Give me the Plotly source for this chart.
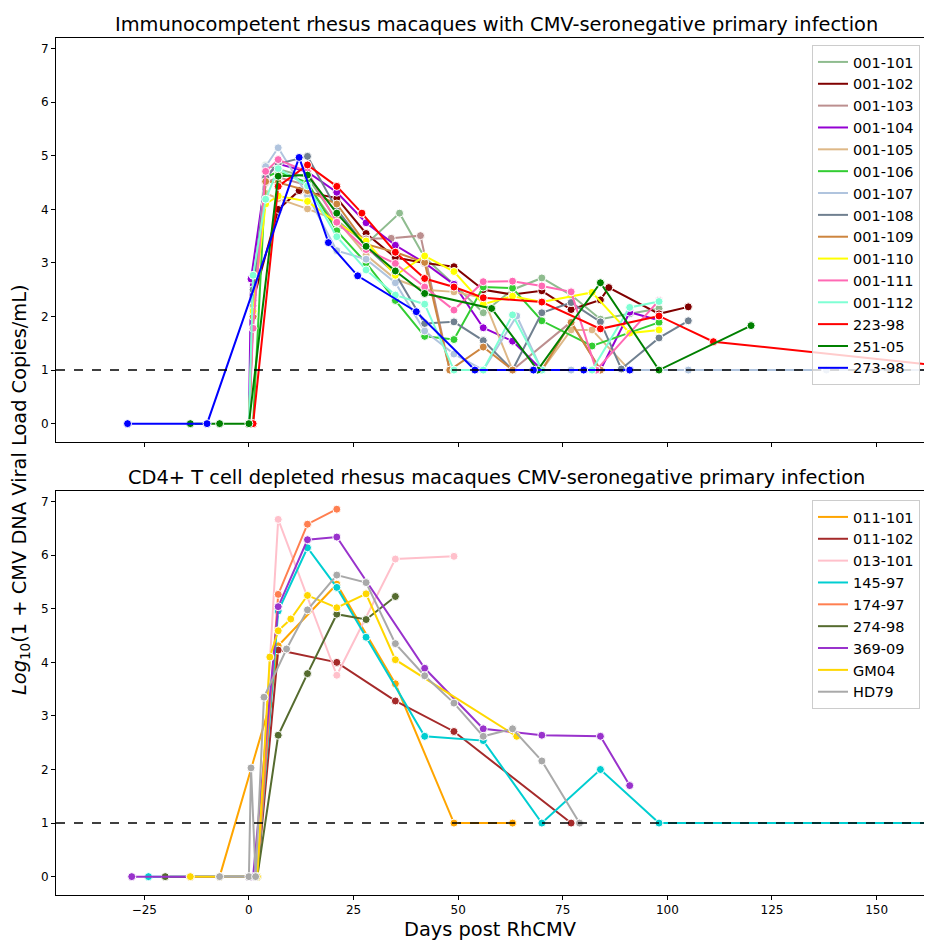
import plotly.graph_objects as go
from plotly.subplots import make_subplots

# ---------------- Top panel: immunocompetent ----------------
top_ids = ["001-101", "001-102", "001-103", "001-104", "001-105", "001-106", "001-107",
           "001-108", "001-109", "001-110", "001-111", "001-112", "223-98", "251-05", "273-98"]
top_colors = ["#8FBC8F", "#800000", "#BC8F8F", "#9400D3", "#DEB887", "#32CD32", "#B0C4DE",
              "#708090", "#CD853F", "#FFFF00", "#FF69B4", "#7FFFD4", "#FF0000", "#008000", "#0000FF"]

d_001_101 = [0, 1, 4, 7, 14, 21, 28, 36, 42, 49, 56, 63, 70, 77, 84, 91, 98]
v_001_101 = [0, 2.4, 4.82, 4.75, 4.6, 3.8, 3.35, 3.93, 3.1, 2.6, 2.07, 2.5, 2.72, 2.4, 1.95, 2.05, 2.15]
d_001_102 = [0, 1, 7, 12, 21, 28, 35, 42, 49, 56, 63, 70, 77, 84, 86, 98, 105]
v_001_102 = [0, 2.3, 4.0, 4.35, 4.21, 3.55, 3.10, 3.0, 2.93, 2.5, 2.41, 2.48, 2.13, 2.31, 2.54, 2.05, 2.18]
d_001_103 = [0, 1, 4, 7, 14, 21, 28, 34, 41, 48, 63, 77, 84, 91]
v_001_103 = [0, 2.0, 4.5, 4.6, 4.45, 3.7, 3.45, 3.46, 3.51, 1.0, 1.0, 1.9, 1.0, 1.0]
d_001_104 = [0, 0.5, 4, 7, 14, 21, 28, 35, 42, 49, 56, 63, 70, 84, 91, 98]
v_001_104 = [0, 2.7, 4.6, 4.85, 4.7, 4.32, 3.75, 3.33, 3.0, 2.6, 1.79, 1.54, 1.0, 1.0, 2.08, 1.93]
d_001_105 = [0, 1, 4, 7, 14, 21, 28, 35, 42, 49, 56, 63, 70, 77, 82, 91]
v_001_105 = [0, 2.2, 4.3, 4.2, 4.01, 3.8, 3.15, 2.7, 2.5, 2.46, 2.35, 1.0, 1.0, 1.75, 1.75, 1.0]
d_001_106 = [0, 1, 4, 7, 14, 21, 28, 35, 42, 49, 56, 63, 70, 82, 91, 98]
v_001_106 = [0, 0, 4.6, 4.7, 4.5, 3.6, 3.0, 2.3, 1.63, 1.57, 2.55, 2.53, 1.92, 1.45, 1.7, 1.89]
d_001_107 = [0, 1, 4, 7, 14, 21, 28, 35, 42, 49, 56, 64, 70, 77, 84, 91, 98, 105, 138, 153, 175]
v_001_107 = [0, 2.3, 4.8, 5.15, 4.26, 3.23, 3.07, 2.63, 1.73, 1.3, 1.0, 2.01, 1.0, 1.0, 1.0, 1.0, 1.0, 1.0, 1.0, 1.0, 1.0]
d_001_108 = [0, 1, 4, 7, 14, 21, 28, 35, 42, 49, 56, 63, 70, 77, 84, 89, 98, 105]
v_001_108 = [0, 2.5, 4.6, 4.85, 4.99, 4.0, 3.3, 2.8, 1.87, 1.9, 1.55, 1.0, 2.07, 2.26, 1.90, 1.02, 1.6, 1.92]
d_001_109 = [0, 1, 4, 7, 14, 21, 28, 35, 42, 48, 56, 63, 70, 77, 84]
v_001_109 = [0, 2.0, 4.52, 4.5, 4.35, 4.10, 3.35, 3.2, 3.01, 1.0, 1.43, 1.0, 1.0, 1.89, 1.0]
d_001_110 = [0, 1, 4, 7, 14, 21, 28, 35, 42, 49, 56, 63, 70, 82, 91, 98]
v_001_110 = [0, 2.1, 4.1, 4.25, 4.15, 3.75, 3.41, 2.77, 3.13, 2.84, 2.23, 2.38, 2.27, 2.45, 1.69, 1.75]
d_001_111 = [0, 1, 4, 7, 14, 21, 28, 35, 42, 49, 56, 63, 70, 77, 83, 98]
v_001_111 = [0, 1.78, 4.71, 4.93, 4.7, 3.76, 3.25, 2.99, 2.55, 2.12, 2.65, 2.66, 2.57, 2.46, 1.0, 2.3]
d_001_112 = [0, 1, 4, 7, 14, 21, 28, 35, 42, 49, 56, 63, 70, 82, 91, 98]
v_001_112 = [0, 2.77, 4.19, 4.76, 4.44, 3.49, 2.87, 2.40, 2.23, 1.0, 1.0, 2.03, 1.0, 1.0, 2.17, 2.28]
d_223_98 = [0, 1, 7, 14, 21, 27, 35, 42, 49, 56, 70, 84, 98, 111, 175]
v_223_98 = [0, 0, 4.43, 4.83, 4.43, 3.93, 3.2, 2.71, 2.55, 2.35, 2.27, 1.77, 2.01, 1.53, 1.0]
d_251_05 = [-14, -7, 0, 7, 14, 21, 28, 35, 42, 58, 69, 84, 98, 120]
v_251_05 = [0, 0, 0, 4.62, 4.64, 3.93, 3.31, 2.85, 2.43, 2.15, 1.0, 2.63, 1.0, 1.83]
d_273_98 = [-29, -10, 12, 19, 26, 40, 54, 68, 80, 91]
v_273_98 = [0, 0, 4.97, 3.38, 2.76, 2.09, 1.0, 1.0, 1.0, 1.0]

top_days = [d_001_101, d_001_102, d_001_103, d_001_104, d_001_105, d_001_106, d_001_107, d_001_108,
            d_001_109, d_001_110, d_001_111, d_001_112, d_223_98, d_251_05, d_273_98]
top_vals = [v_001_101, v_001_102, v_001_103, v_001_104, v_001_105, v_001_106, v_001_107, v_001_108,
            v_001_109, v_001_110, v_001_111, v_001_112, v_223_98, v_251_05, v_273_98]

# ---------------- Bottom panel: CD4+ T cell depleted ----------------
bot_ids = ["011-101", "011-102", "013-101", "145-97", "174-97", "274-98", "369-09", "GM04", "HD79"]
bot_colors = ["#FFA500", "#A52A2A", "#FFC0CB", "#00CED1", "#FF7F50", "#556B2F", "#9932CC", "#FFD700", "#A9A9A9"]

d_011_101 = [-7, 5, 7, 21, 35, 49, 63]
v_011_101 = [0, 3.21, 4.31, 5.46, 3.6, 1.0, 1.0]
d_011_102 = [0, 2, 7, 21, 35, 49, 77]
v_011_102 = [0, 0, 4.23, 4.0, 3.28, 2.71, 1.0]
d_013_101 = [0, 2, 7, 21, 35, 49]
v_013_101 = [0, 0, 6.67, 3.76, 5.93, 5.98]
d_145_97 = [-24, 0, 2, 7, 14, 21, 28, 42, 56, 70, 84, 98, 175]
v_145_97 = [0, 0, 0, 4.96, 6.14, 5.40, 4.47, 2.62, 2.54, 1.0, 2.0, 1.0, 1.0]
d_174_97 = [0, 2, 7, 14, 21]
v_174_97 = [0, 0, 5.27, 6.58, 6.86]
d_274_98 = [-20, 0, 2, 7, 14, 21, 28, 35]
v_274_98 = [0, 0, 0, 2.64, 3.79, 4.90, 4.80, 5.23]
d_369_09 = [-28, -14, 0, 1, 7, 14, 21, 42, 56, 70, 84, 91]
v_369_09 = [0, 0, 0, 0, 5.04, 6.29, 6.34, 3.89, 2.76, 2.64, 2.62, 1.70]
d_gm04 = [-14, -7, 2, 5, 7, 10, 14, 21, 28, 35, 64]
v_gm04 = [0, 0, 0, 4.1, 4.59, 4.81, 5.25, 5.02, 5.28, 4.05, 2.62]
d_hd79 = [-7, 0, 0.5, 1.6, 3.6, 9, 14, 21, 28, 35, 42, 49, 56, 63, 70, 79]
v_hd79 = [0, 0, 2.03, 0, 3.35, 4.25, 4.98, 5.63, 5.49, 4.35, 3.75, 3.24, 2.62, 2.76, 2.16, 1.0]

bot_days = [d_011_101, d_011_102, d_013_101, d_145_97, d_174_97, d_274_98, d_369_09, d_gm04, d_hd79]
bot_vals = [v_011_101, v_011_102, v_013_101, v_145_97, v_174_97, v_274_98, v_369_09, v_gm04, v_hd79]

x_ticks = [-25, 0, 25, 50, 75, 100, 125, 150]
y_ticks = [0, 1, 2, 3, 4, 5, 6, 7]
detection_limit = 1

top_title = "Immunocompetent rhesus macaques with CMV-seronegative primary infection"
bot_title = "CD4+ T cell depleted rhesus macaques CMV-seronegative primary infection"
y_title = "<i>Log</i><sub>10</sub>(1 + CMV DNA Viral Load Copies/mL)"
x_title = "Days post RhCMV"

FONT = "DejaVu Sans"
OFF = 8  # page body margin offset
W, H = 932, 940
ML, MT = 56 - OFF, 38 - OFF
MR = W - (931 - OFF)
MB = H - (895 - OFF)
PW, PH = W - ML - MR, H - MT - MB

fig = make_subplots(rows=2, cols=1, shared_xaxes=True, vertical_spacing=49 / PH)


def add_panel(ids, colors, days, vals, row, legend):
    for name, col, d, v in zip(ids, colors, days, vals):
        fig.add_trace(go.Scatter(
            x=d, y=v, mode="lines+markers", name=name, showlegend=False,
            line=dict(color=col, width=2),
            marker=dict(color=col, size=8, line=dict(color="white", width=1)),
        ), row=row, col=1)
    for name, col in zip(ids, colors):
        fig.add_trace(go.Scatter(
            x=[None], y=[None], mode="lines", name=name, legend=legend,
            line=dict(color=col, width=2),
        ), row=row, col=1)


add_panel(top_ids, top_colors, top_days, top_vals, 1, "legend")
add_panel(bot_ids, bot_colors, bot_days, bot_vals, 2, "legend2")

for r in (1, 2):
    fig.add_hline(y=detection_limit, line=dict(color="black", width=1.5, dash="dash"), row=r, col=1)

x_left = -46.1
x_right = 163.0
y_range = [-0.343, 7.2]
axis_common = dict(showline=True, mirror=True, linecolor="black", linewidth=1, showgrid=False,
                   zeroline=False, ticks="outside", ticklen=4, tickcolor="black",
                   tickfont=dict(family=FONT, size=12, color="black"))
fig.update_xaxes(range=[x_left, x_right], tickvals=x_ticks, **axis_common)
fig.update_xaxes(showticklabels=False, row=1, col=1)
fig.update_yaxes(range=y_range, tickvals=y_ticks, **axis_common)


def py(page_pix):
    return (H - MB - (page_pix - OFF)) / PH


def px(page_pix):
    return (page_pix - OFF - ML) / PW


ann = [
    dict(text=top_title, x=px(496), y=py(24), xref="paper", yref="paper", showarrow=False,
         font=dict(family=FONT, size=19.4, color="black"), xanchor="center", yanchor="middle"),
    dict(text=bot_title, x=px(496), y=py(477), xref="paper", yref="paper", showarrow=False,
         font=dict(family=FONT, size=19.4, color="black"), xanchor="center", yanchor="middle"),
    dict(text=y_title, x=px(20), y=py(490), xref="paper", yref="paper", showarrow=False,
         textangle=-90, font=dict(family=FONT, size=19.4, color="black"),
         xanchor="center", yanchor="middle"),
    dict(text=x_title, x=px(490), y=py(929), xref="paper", yref="paper", showarrow=False,
         font=dict(family=FONT, size=19.4, color="black"), xanchor="center", yanchor="middle"),
]

legend_common = dict(bgcolor="rgba(255,255,255,0.8)", bordercolor="#cccccc", borderwidth=1,
                     font=dict(family=FONT, size=14.5, color="black"), xanchor="left", yanchor="top",
                     tracegroupgap=0, itemwidth=30)

fig.update_layout(
    width=W, height=H, template="none",
    paper_bgcolor="white", plot_bgcolor="white",
    margin=dict(l=ML, r=MR, t=MT, b=MB, autoexpand=False),
    annotations=ann,
    legend=dict(x=px(812), y=py(45), **legend_common),
    legend2=dict(x=px(812), y=py(500), **legend_common),
    font=dict(family=FONT),
)

fig.write_html("out.html")
